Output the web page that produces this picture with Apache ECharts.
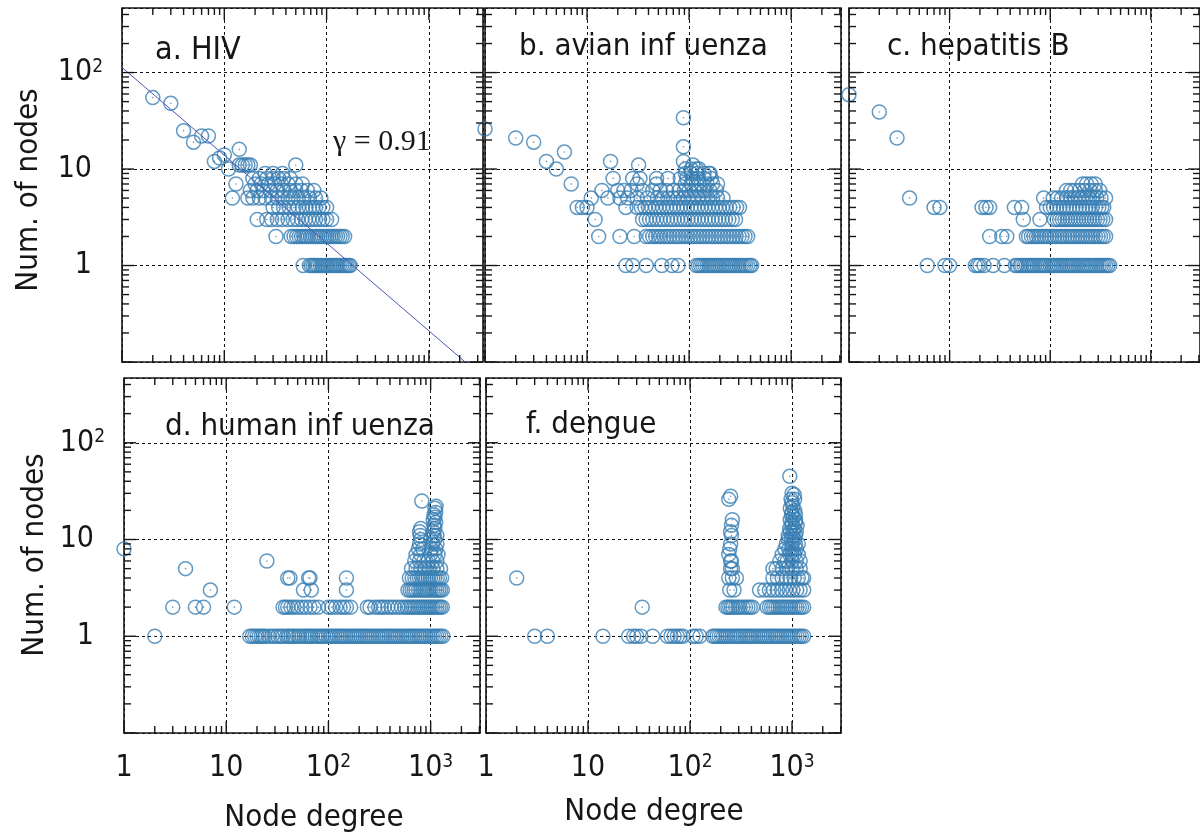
<!DOCTYPE html>
<html>
<head>
<meta charset="utf-8">
<script src="https://cdn.jsdelivr.net/npm/echarts@6/dist/echarts.min.js"></script>
<style>
  html, body { margin: 0; padding: 0; background: #ffffff; }
  #chart { width: 1200px; height: 839px; }
</style>
</head>
<body>
<div id="chart"></div>
<script>
// Degree distributions: each pair is [node degree, number of nodes with that degree]

const hivPoints = [
  [2,55],[3,48],[4,25],[5,19],[6,22],[7,22],[8,12],[9,13],[10,14],[11,10],[14,16],
  [14,11],[15,11],[16,11],[17,11],[18,11],[50,11],
  [25,9],[30,9],[37,9],
  [19,8],[22,8],[26,8],[30,8],[34,8],[38,8],[44,8],
  [13,7],[20,7],[23,7],[27,7],[31,7],[36,7],[42,7],[50,7],[58,7],
  [18,6],[21,6],[24,6],[28,6],[33,6],[38,6],[44,6],[50,6],[57,6],[65,6],[75,6],
  [12,5],[17,5],[19,5],[22,5],[25,5],[29,5],[33,5],[37,5],[42,5],[47,5],[53,5],[60,5],[68,5],[78,5],[88,5],
  [30,4],[34,4],[38,4],[43,4],[48,4],[53,4],[58,4],[63,4],[68,4],[73,4],[78,4],[84,4],[92,4],[100,4],
  [21,3],[26,3],[29,3],[33,3],[37,3],[42,3],[47,3],[52,3],[57,3],[62,3],[67,3],[72,3],[78,3],[85,3],[92,3],[100,3],[112,3],
  [32,2],[45,2],[48,2],[51,2],[54,2],[57,2],[60,2],[63,2],[66,2],[70,2],[74,2],[78,2],[82,2],[86,2],[90,2],[95,2],[100,2],[105,2],[110,2],[116,2],[122,2],[128,2],[135,2],[142,2],[150,2],
  [59,1],[68,1],[71,1],[74,1],[77,1],[80,1],[83,1],[87,1],[91,1],[95,1],[99,1],[103,1],[108,1],[113,1],[118,1],[123,1],[128,1],[134,1],[140,1],[146,1],[152,1],[158,1],[165,1],[170,1]
];

const avianPoints = [
  [1,26],[2,21],[3,19],[4,12],[5,10],[6,15],[7,7],
  [88,34],[88,17],[88,12],[17,12],[32,11],[109,11],[157,9],
  [92,10],[105,10],[118,10],[125,10],
  [92,9],[105,9],[120,9],[140,9],[160,9],
  [18,8],[28,8],[33,8],[48,8],[62,8],[82,8],[95,8],[108,8],[122,8],[140,8],[165,8],
  [31,7],[48,7],[92,7],[105,7],[118,7],[132,7],[150,7],[170,7],[190,7],
  [14,6],[20,6],[23,6],[27,6],[35,6],[44,6],[52,6],[60,6],[70,6],[80,6],[90,6],[100,6],[112,6],[125,6],[140,6],[160,6],[185,6],
  [11,5],[16,5],[21,5],[25,5],[31,5],[39,5],[49,5],[55,5],[62,5],[70,5],[78,5],[88,5],[98,5],[110,5],[122,5],[136,5],[152,5],[170,5],[190,5],[215,5],
  [8,4],[9,4],[10,4],[24,4],[31,4],[34,4],[37,4],[40,4],[43,4],[47,4],[51,4],[55,4],[60,4],[65,4],[70,4],[76,4],[82,4],[89,4],[96,4],[104,4],[112,4],[121,4],[131,4],[142,4],[154,4],[167,4],[181,4],[196,4],[212,4],[230,4],[250,4],[270,4],[292,4],[312,4],
  [12,3],[35,3],[38,3],[41,3],[44,3],[48,3],[52,3],[56,3],[61,3],[66,3],[71,3],[77,3],[83,3],[90,3],[97,3],[105,3],[113,3],[122,3],[132,3],[143,3],[154,3],[167,3],[180,3],[195,3],[210,3],[227,3],[245,3],[265,3],[285,3],
  [13,2],[21,2],[29,2],[38,2],[41,2],[44,2],[47,2],[50,2],[53,2],[57,2],[61,2],[65,2],[70,2],[75,2],[80,2],[86,2],[92,2],[98,2],[105,2],[112,2],[120,2],[128,2],[137,2],[147,2],[157,2],[168,2],[180,2],[193,2],[206,2],[220,2],[236,2],[252,2],[270,2],[289,2],[309,2],[330,2],[353,2],[375,2],
  [24,1],[28,1],[38,1],[54,1],[68,1],[78,1],
  [118,1],[124,1],[130,1],[136,1],[143,1],[150,1],[157,1],[165,1],[173,1],[182,1],[191,1],[200,1],[210,1],[220,1],[231,1],[243,1],[255,1],[268,1],[281,1],[295,1],[310,1],[325,1],[341,1],[358,1],[376,1],[395,1],[410,1]
];

const hepatitisPoints = [
  [1,59],[2,39],[3,21],[4,5],[7,4],[8,4],
  [210,7],[230,7],[255,7],[280,7],
  [145,6],[160,6],[175,6],[195,6],[220,6],[250,6],[280,6],[310,6],
  [86,5],[107,5],[118,5],[130,5],[145,5],[160,5],[175,5],[190,5],[205,5],[225,5],[245,5],[265,5],[290,5],[320,5],[355,5],
  [21,4],[23,4],[25,4],[44,4],[52,4],[92,4],[100,4],[108,4],[116,4],[125,4],[135,4],[145,4],[156,4],[168,4],[181,4],[195,4],[210,4],[226,4],[243,4],[262,4],[282,4],[304,4],[325,4],[340,4],
  [54,3],[79,3],[110,3],[117,3],[124,3],[132,3],[140,3],[149,3],[158,3],[168,3],[179,3],[190,3],[202,3],[215,3],[229,3],[244,3],[260,3],[276,3],[294,3],[313,3],[333,3],[355,3],
  [25,2],[33,2],[37,2],[58,2],[61,2],[65,2],[69,2],[73,2],[77,2],[82,2],[87,2],[92,2],[98,2],[104,2],[110,2],[117,2],[124,2],[131,2],[139,2],[148,2],[157,2],[166,2],[176,2],[187,2],[198,2],[210,2],[223,2],[236,2],[250,2],[265,2],[281,2],[298,2],[316,2],[335,2],[355,2],
  [6,1],[9,1],[10,1],[18,1],[19,1],[20,1],[22,1],[27,1],[35,1],
  [45,1],[47,1],[50,1],[52,1],[55,1],[58,1],[61,1],[64,1],[67,1],[70,1],[74,1],[78,1],[82,1],[86,1],[90,1],[95,1],[100,1],[105,1],[110,1],[116,1],[122,1],[128,1],[134,1],[141,1],[148,1],[155,1],[163,1],[171,1],[180,1],[189,1],[198,1],[208,1],[218,1],[229,1],[240,1],[252,1],[265,1],[278,1],[292,1],[307,1],[322,1],[338,1],[355,1],[373,1],[390,1]
];

const humanFluPoints = [
  [1,8],[2,1],[3,2],[4,5],[5,2],[6,2],[7,3],[12,2],[25,6],
  [40,4],[42,4],[64,4],[66,4],[150,4],
  [57,3],[68,3],[150,3],
  [820,25],[1130,22],[1100,21],[1120,19],[1080,18],[1100,17],[1060,16],[1120,15],[1080,14],
  [800,13],[1100,13],[780,12],[1060,12],[790,11],[1080,11],[1150,11],
  [800,10],[1000,10],[1100,10],[780,9],[1050,9],[1150,9],
  [760,8],[840,8],[1020,8],[1120,8],[720,7],[800,7],[1000,7],[1100,7],[1180,7],
  [700,6],[780,6],[860,6],[950,6],[1050,6],[1150,6],
  [650,5],[720,5],[800,5],[880,5],[960,5],[1050,5],[1150,5],[1250,5],
  [620,4],[660,4],[700,4],[740,4],[780,4],[820,4],[860,4],[900,4],[950,4],[1000,4],[1050,4],[1100,4],[1160,4],[1220,4],[1280,4],
  [600,3],[630,3],[660,3],[690,3],[720,3],[760,3],[800,3],[840,3],[880,3],[920,3],[960,3],[1000,3],[1050,3],[1100,3],[1150,3],[1200,3],[1250,3],[1300,3],
  [36,2],[38,2],[40,2],[43,2],[46,2],[50,2],[55,2],[60,2],[66,2],[72,2],[80,2],[100,2],[108,2],[118,2],[130,2],[140,2],[150,2],[165,2],
  [240,2],[255,2],[285,2],[310,2],[330,2],[350,2],[380,2],[410,2],[440,2],[480,2],[520,2],
  [560,2],[590,2],[620,2],[650,2],[680,2],[710,2],[745,2],[780,2],[815,2],[850,2],[890,2],[930,2],[970,2],[1010,2],[1050,2],[1100,2],[1150,2],[1200,2],[1250,2],[1300,2],
  [17,1],[18,1],[19,1],[20,1],[21,1],[22,1],[23,1],[24,1],[26,1],[28,1],[30,1],[32,1],[34,1],[36,1],
  [39,1],[41,1],[43,1],[45,1],[47,1],[50,1],[52,1],[55,1],[58,1],[61,1],[64,1],[67,1],[70,1],[74,1],[78,1],[82,1],[86,1],[90,1],[95,1],[100,1],
  [105,1],[110,1],[116,1],[122,1],[128,1],[134,1],[141,1],[148,1],[155,1],[163,1],[171,1],[180,1],[189,1],[198,1],[208,1],[218,1],[229,1],[240,1],
  [252,1],[265,1],[278,1],[292,1],[307,1],[322,1],[338,1],[355,1],[373,1],[392,1],[411,1],[432,1],[453,1],[476,1],[500,1],[525,1],[551,1],[579,1],
  [608,1],[638,1],[670,1],[703,1],[738,1],[775,1],[814,1],[855,1],[898,1],[943,1],[990,1],[1040,1],[1090,1],[1145,1],[1200,1],[1260,1],[1320,1]
];

const denguePoints = [
  [2,4],[3,1],[4,1],[14,1],[34,2],
  [250,28],[240,26],[260,16],[255,14],[250,12],[255,11],[250,9],[245,8],[240,7],[250,6],[255,6],[260,5],[250,5],
  [240,4],[260,4],[285,4],[245,3],[270,3],
  [950,45],[1000,30],[1050,29],[980,26],[1060,26],[1000,24],[1020,22],[960,21],[1060,20],[1000,19],
  [990,18],[1080,18],[1030,17],[960,16],[1080,16],[1080,15],[1000,15],[1000,14],[1120,14],[1050,13],[950,13],
  [960,12],[1100,12],[1030,12],[1000,11],[1080,11],[920,11],[1060,10],[920,10],[990,10],
  [1000,9],[1080,9],[880,9],[1150,9],[1000,8],[1100,8],[850,8],[930,8],
  [950,7],[1050,7],[800,7],[1150,7],[1000,7],
  [900,6],[1000,6],[1100,6],[760,6],[850,6],[1200,6],
  [650,5],[700,5],[800,5],[900,5],[1000,5],[1100,5],[1200,5],
  [650,4],[720,4],[800,4],[880,4],[960,4],[1050,4],[1150,4],[1250,4],[1300,4],
  [480,3],[540,3],[600,3],[660,3],[720,3],[790,3],[860,3],[940,3],[1020,3],[1110,3],[1200,3],[1300,3],
  [225,2],[235,2],[245,2],[255,2],[265,2],[280,2],[295,2],[310,2],[330,2],[350,2],[370,2],[390,2],[410,2],
  [570,2],[600,2],[630,2],[660,2],[695,2],[730,2],[765,2],[800,2],[840,2],[880,2],[925,2],[970,2],[1020,2],[1070,2],[1120,2],[1180,2],[1240,2],[1300,2],
  [25,1],[28,1],[30,1],[33,1],[43,1],[60,1],[65,1],[70,1],[75,1],[80,1],[85,1],[107,1],[115,1],[125,1],
  [167,1],[175,1],[184,1],[193,1],[203,1],[213,1],[224,1],[235,1],[247,1],[259,1],[272,1],[286,1],[300,1],[315,1],[331,1],[348,1],[365,1],[383,1],[402,1],[422,1],[443,1],[465,1],
  [488,1],[512,1],[538,1],[565,1],[593,1],[623,1],[654,1],[687,1],[721,1],[757,1],[795,1],[835,1],[877,1],[921,1],[967,1],[1015,1],[1066,1],[1120,1],[1176,1],[1235,1],[1300,1]
];

// Power-law fit drawn over the HIV panel: N(k) = fitAtOne * k^(-fitGamma)
const fitGamma = 0.91;
const fitAtOne = 113;

// Axis ticks (log scale)
const xMajorTicks = [1, 10, 100, 1000];
const xMinorTicks = [2,3,4,5,6,7,8,9,20,30,40,50,60,70,80,90,200,300,400,500,600,700,800,900,2000,3000];
const yMajorTicks = [0.1, 1, 10, 100];
const yMinorTicks = [0.2,0.3,0.4,0.5,0.6,0.7,0.8,0.9,2,3,4,5,6,7,8,9,20,30,40,50,60,70,80,90,200,300,400];

const FONT = '"DejaVu Sans Condensed", "DejaVu Sans", sans-serif';
const SERIF = '"Liberation Serif", "DejaVu Serif", serif';
const MARK = '#3a7fb4';
const INK = '#161616';

const panels = [
  { title: 'a. HIV',            points: hivPoints,       box: { left: 122, top: 8,   width: 361, height: 354 }, xMax: 3380, yLabels: true,  xLabels: false, titlePos: [155, 51], titleSize: 32 },
  { title: 'b. avian inf uenza', points: avianPoints,     box: { left: 485, top: 8,   width: 356, height: 354 }, xMax: 3080, yLabels: false, xLabels: false, titlePos: [519, 47], titleSize: 31 },
  { title: 'c. hepatitis B',     points: hepatitisPoints, box: { left: 849, top: 8,   width: 356, height: 354 }, xMax: 3080, yLabels: false, xLabels: false, titlePos: [887, 47], titleSize: 31 },
  { title: 'd. human inf uenza', points: humanFluPoints,  box: { left: 124, top: 378, width: 356, height: 355 }, xMax: 3040, yLabels: true,  xLabels: true,  titlePos: [165, 427], titleSize: 31 },
  { title: 'f. dengue',          points: denguePoints,    box: { left: 486, top: 378, width: 355, height: 355 }, xMax: 3020, yLabels: false, xLabels: true,  titlePos: [526, 425], titleSize: 31 }
];
const Y_MIN = 0.1, Y_MAX = 467;

function powerOfTen(v) {
  const e = Math.log10(v);
  const r = Math.round(e);
  return Math.abs(e - r) < 1e-6 ? r : null;
}
function yLabel(v) {
  const e = powerOfTen(v);
  if (e === null || e < 0) return '';
  if (e === 0) return '1{p| }';
  if (e === 1) return '10{p| }';
  return '10{s|' + e + '}';
}
function xLabel(v) {
  const e = powerOfTen(v);
  if (e === null || e < 0) return '';
  if (e === 0) return '1';
  if (e === 1) return '10';
  return '10{s|' + e + '}';
}
const labelRich = {
  s: { fontFamily: FONT, fontSize: 19, color: INK, verticalAlign: 'top', lineHeight: 30 },
  p: { fontFamily: FONT, fontSize: 19, width: 11 }
};

// Inward ticks on all four sides of a panel, major and minor
function tickSeries(i) {
  return {
    type: 'custom', xAxisIndex: i, yAxisIndex: i, silent: true, clip: false, z: 5,
    data: [[1, 1]],
    renderItem: function (params, api) {
      const cs = params.coordSys;
      const x0 = cs.x, x1 = cs.x + cs.width, y0 = cs.y, y1 = cs.y + cs.height;
      const kids = [];
      const st = { stroke: INK, lineWidth: 1.4 };
      const addX = (v, len) => {
        const px = api.coord([v, 1])[0];
        if (px < x0 - 0.5 || px > x1 + 0.5) return;
        kids.push({ type: 'line', shape: { x1: px, y1: y1, x2: px, y2: y1 - len }, style: st });
        kids.push({ type: 'line', shape: { x1: px, y1: y0, x2: px, y2: y0 + len }, style: st });
      };
      const addY = (v, len) => {
        const py = api.coord([1, v])[1];
        if (py < y0 - 0.5 || py > y1 + 0.5) return;
        kids.push({ type: 'line', shape: { x1: x0, y1: py, x2: x0 + len, y2: py }, style: st });
        kids.push({ type: 'line', shape: { x1: x1, y1: py, x2: x1 - len, y2: py }, style: st });
      };
      xMajorTicks.forEach(v => addX(v, 12));
      xMinorTicks.forEach(v => addX(v, 7));
      yMajorTicks.forEach(v => addY(v, 12));
      yMinorTicks.forEach(v => addY(v, 7));
      return { type: 'group', children: kids };
    }
  };
}

const grid = [], xAxis = [], yAxis = [], series = [], graphic = [];
const dash = { color: '#111', width: 1, type: [3, 3] };

panels.forEach((p, i) => {
  grid.push({ left: p.box.left, top: p.box.top, width: p.box.width, height: p.box.height,
              show: true, borderColor: INK, borderWidth: 1.6, backgroundColor: '#fff', containLabel: false });
  xAxis.push({
    type: 'log', logBase: 10, gridIndex: i, min: 1, max: p.xMax,
    axisLine: { show: false }, axisTick: { show: false },
    splitLine: { show: true, lineStyle: dash },
    axisLabel: { show: p.xLabels, formatter: xLabel, fontFamily: FONT, fontSize: 30, color: INK,
                 margin: 20, rich: labelRich, showMinLabel: true, showMaxLabel: true, hideOverlap: false }
  });
  yAxis.push({
    type: 'log', logBase: 10, gridIndex: i, min: Y_MIN, max: Y_MAX,
    axisLine: { show: false }, axisTick: { show: false },
    splitLine: { show: true, lineStyle: dash },
    axisLabel: { show: p.yLabels, formatter: yLabel, fontFamily: FONT, fontSize: 30, color: INK,
                 margin: 19, align: 'right', rich: labelRich, showMinLabel: true, showMaxLabel: true, hideOverlap: false }
  });
  series.push({
    type: 'scatter', xAxisIndex: i, yAxisIndex: i, data: p.points, symbol: 'circle', symbolSize: 14,
    itemStyle: { color: 'rgba(0,0,0,0)', borderColor: MARK, borderWidth: 1.5 },
    emphasis: { disabled: true }, silent: true, z: 3
  });
  series.push({
    type: 'scatter', xAxisIndex: i, yAxisIndex: i, data: p.points, symbol: 'circle', symbolSize: 1.6,
    itemStyle: { color: MARK }, emphasis: { disabled: true }, silent: true, z: 3
  });
  series.push(tickSeries(i));
  graphic.push({ type: 'text', x: p.titlePos[0], y: p.titlePos[1], z: 10,
    style: { text: p.title, font: p.titleSize + 'px ' + FONT, fill: INK, textAlign: 'left', textVerticalAlign: 'middle' } });
});

// Fitted power law over the HIV panel
const fitEndDegree = panels[0].xMax;
series.push({
  type: 'line', xAxisIndex: 0, yAxisIndex: 0, showSymbol: false, silent: true, clip: true, z: 4,
  lineStyle: { color: '#4a57b5', width: 1 },
  data: [[1, fitAtOne], [fitEndDegree, fitAtOne * Math.pow(fitEndDegree, -fitGamma)]]
});

graphic.push({ type: 'text', x: 333, y: 142, z: 10,
  style: { text: 'γ = ' + fitGamma.toFixed(2), font: '30px ' + SERIF, fill: INK, textAlign: 'left', textVerticalAlign: 'middle' } });
graphic.push({ type: 'text', x: 29, y: 190, rotation: Math.PI / 2, z: 10,
  style: { text: 'Num. of nodes', font: '31px ' + FONT, fill: INK, textAlign: 'center', textVerticalAlign: 'middle' } });
graphic.push({ type: 'text', x: 35, y: 555, rotation: Math.PI / 2, z: 10,
  style: { text: 'Num. of nodes', font: '31px ' + FONT, fill: INK, textAlign: 'center', textVerticalAlign: 'middle' } });
graphic.push({ type: 'text', x: 314, y: 818, z: 10,
  style: { text: 'Node degree', font: '31px ' + FONT, fill: INK, textAlign: 'center', textVerticalAlign: 'middle' } });
graphic.push({ type: 'text', x: 654, y: 812, z: 10,
  style: { text: 'Node degree', font: '31px ' + FONT, fill: INK, textAlign: 'center', textVerticalAlign: 'middle' } });

const chart = echarts.init(document.getElementById('chart'), null, { renderer: 'canvas' });
chart.setOption({
  animation: false,
  backgroundColor: '#ffffff',
  grid, xAxis, yAxis, series, graphic
});
</script>
</body>
</html>
